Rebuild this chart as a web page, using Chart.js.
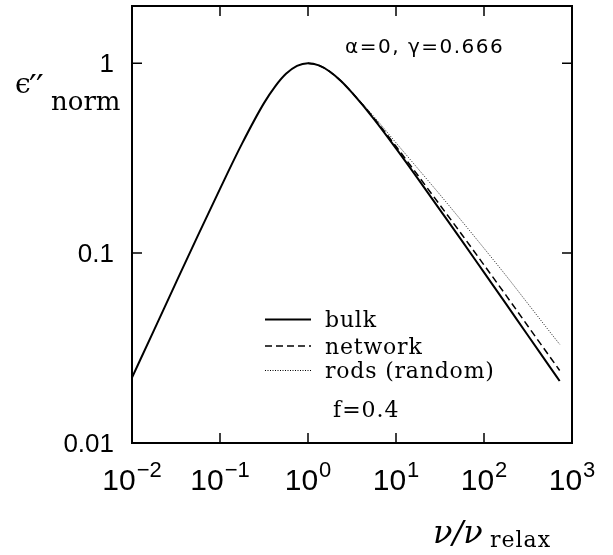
<!DOCTYPE html>
<html>
<head>
<meta charset="utf-8">
<script src="https://cdn.jsdelivr.net/npm/chart.js@4"></script>
<style>
  body { margin: 0; background: #fff; }
</style>
</head>
<body>
<canvas id="lossChart" width="613" height="555"></canvas>
<script>
// values (nu / nu_relax vs normalised eps'')
const freq = [0.01, 0.0178, 0.0316, 0.0562, 0.1, 0.178, 0.316, 0.422, 0.562, 0.750, 1, 1.33, 1.78, 2.37, 3.16, 5.62, 10, 17.8, 31.6, 56.2, 100, 178, 316, 562, 724]
const bulk = [0.0221, 0.0393, 0.0699, 0.124, 0.218, 0.377, 0.616, 0.753, 0.879, 0.968, 1.0, 0.973, 0.901, 0.805, 0.699, 0.508, 0.356, 0.246, 0.169, 0.116, 0.0791, 0.0540, 0.0368, 0.0251, 0.0212]

const freqHigh = [1, 1.33, 1.78, 2.37, 3.16, 5.62, 10, 17.8, 31.6, 56.2, 100, 178, 316, 562, 724]
const network = [1.0, 0.973, 0.901, 0.805, 0.700, 0.513, 0.365, 0.256, 0.179, 0.125, 0.0866, 0.0599, 0.0412, 0.0284, 0.0241]
const rods = [1.0, 0.973, 0.901, 0.806, 0.703, 0.523, 0.381, 0.278, 0.203, 0.147, 0.106, 0.0761, 0.0541, 0.0384, 0.0331]

const seriesNames = ['bulk', 'network', 'rods (random)']
const xDecades = [-2, -1, 0, 1, 2, 3]
const yTickValues = [0.01, 0.1, 1]
const yTickLabels = ['0.01', '0.1', '1']

const toPoints = (xs, ys) => xs.map((v, i) => ({ x: v, y: ys[i] }))

const serif = '"DejaVu Serif"'

const overlay = {
    id: 'overlay',
    beforeDraw(chart) {
        const ctx = chart.ctx
        ctx.save()
        ctx.fillStyle = '#fff'
        ctx.fillRect(0, 0, chart.width, chart.height)
        ctx.restore()
    },
    afterDraw(chart) {
        const { ctx, chartArea: a, scales: { x, y } } = chart
        ctx.save()
        ctx.strokeStyle = '#000'
        ctx.fillStyle = '#000'

        // frame
        ctx.lineWidth = 2
        ctx.strokeRect(a.left, a.top, a.right - a.left, a.bottom - a.top)

        // inward tick marks
        ctx.lineWidth = 1.5
        ctx.beginPath()
        xDecades.forEach(p => {
            const px = x.getPixelForValue(Math.pow(10, p))
            if (px > a.left + 2 && px < a.right - 2) {
                ctx.moveTo(px, a.bottom); ctx.lineTo(px, a.bottom - 10)
                ctx.moveTo(px, a.top); ctx.lineTo(px, a.top + 10)
            }
        })
        yTickValues.forEach(v => {
            const py = y.getPixelForValue(v)
            if (py > a.top + 2 && py < a.bottom - 2) {
                ctx.moveTo(a.left, py); ctx.lineTo(a.left + 10, py)
                ctx.moveTo(a.right, py); ctx.lineTo(a.right - 10, py)
            }
        })
        ctx.stroke()

        // x tick labels 10^n
        ctx.textAlign = 'left'
        ctx.textBaseline = 'alphabetic'
        xDecades.forEach(p => {
            const px = x.getPixelForValue(Math.pow(10, p))
            const exp = p < 0 ? '\u2212' + (-p) : String(p)
            ctx.font = '30px "Liberation Sans"'
            const w1 = ctx.measureText('10').width
            ctx.font = '22px "Liberation Sans"'
            const w2 = ctx.measureText(exp).width
            const start = px - (w1 + 1 + w2) / 2
            ctx.font = '30px "Liberation Sans"'
            ctx.fillText('10', start, a.bottom + 47)
            ctx.font = '22px "Liberation Sans"'
            ctx.fillText(exp, start + w1 + 1, a.bottom + 34)
        })

        // y tick labels
        ctx.textAlign = 'right'
        ctx.font = '26px "Liberation Sans"'
        yTickValues.forEach((v, i) => {
            ctx.fillText(yTickLabels[i], a.left - 18, y.getPixelForValue(v) + 9)
        })

        // y title
        ctx.textAlign = 'left'
        ctx.font = '28px ' + serif
        ctx.fillText('\u03F5', 15, 93)
        ctx.font = '34px ' + serif
        ctx.fillText('\u2032', 29, 99)
        ctx.fillText('\u2032', 36, 99)
        ctx.font = '26px ' + serif
        ctx.fillText('norm', 51, 110)

        // x title
        ctx.font = 'italic 32px ' + serif
        ctx.fillText('\u03BD/\u03BD', 433, 543)
        ctx.font = '22px ' + serif
        ctx.letterSpacing = '1px'
        ctx.fillText('relax', 490, 547)

        // annotations
        ctx.font = '20px "DejaVu Sans"'
        ctx.letterSpacing = '1.5px'
        ctx.fillText('\u03B1=0, \u03B3=0.666', 345, 53)
        ctx.letterSpacing = '1px'
        ctx.font = '22px ' + serif
        ctx.fillText('f=0.4', 333, 417)

        // legend
        const rows = [319.5, 346, 370.5]
        ctx.font = '22px ' + serif
        ctx.letterSpacing = '0.8px'
        chart.data.datasets.forEach((ds, i) => {
            ctx.setLineDash(ds.borderDash || [])
            ctx.lineWidth = ds.borderWidth
            ctx.beginPath()
            ctx.moveTo(265, rows[i])
            ctx.lineTo(311, rows[i])
            ctx.stroke()
            ctx.setLineDash([])
            ctx.fillText(ds.label, 325, rows[i] + 7.5)
        })
        ctx.letterSpacing = '0px'
        ctx.restore()
    }
}

const lossChart = document.getElementById('lossChart')

new Chart(lossChart, {
    type: 'line',
    data: {
        datasets: [{
            label: seriesNames[0],
            data: toPoints(freq, bulk),
            borderColor: '#000',
            borderWidth: 2,
            pointRadius: 0,
            cubicInterpolationMode: 'monotone'
        }, {
            label: seriesNames[1],
            data: toPoints(freqHigh, network),
            borderColor: '#000',
            borderWidth: 1.5,
            borderDash: [7, 4],
            pointRadius: 0,
            cubicInterpolationMode: 'monotone'
        }, {
            label: seriesNames[2],
            data: toPoints(freqHigh, rods),
            borderColor: '#222',
            borderWidth: 1,
            borderDash: [1, 1.5],
            pointRadius: 0,
            cubicInterpolationMode: 'monotone'
        }]
    },
    options: {
        responsive: false,
        animation: false,
        layout: { padding: { top: 6, right: 41, left: 0, bottom: 0 } },
        plugins: {
            legend: { display: false },
            tooltip: { enabled: false }
        },
        scales: {
            x: {
                type: 'logarithmic',
                min: 0.01,
                max: 1000,
                grid: { display: false },
                border: { display: false },
                ticks: { display: false },
                afterFit: s => { s.height = 112 }
            },
            y: {
                type: 'logarithmic',
                min: 0.01,
                max: 2,
                grid: { display: false },
                border: { display: false },
                ticks: { display: false },
                afterFit: s => { s.width = 132 }
            }
        }
    },
    plugins: [overlay]
});
</script>
</body>
</html>
